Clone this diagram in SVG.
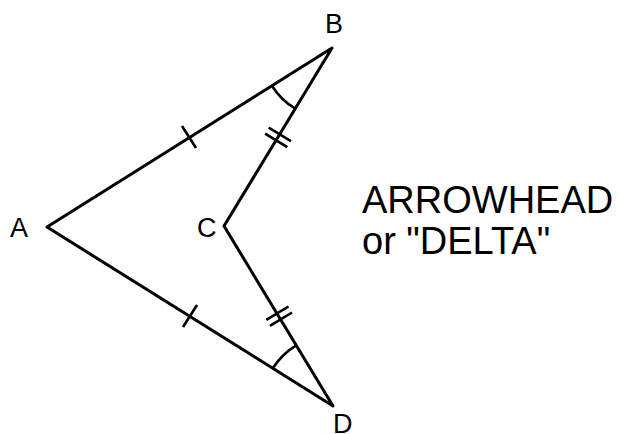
<svg xmlns="http://www.w3.org/2000/svg" width="619" height="434" viewBox="0 0 619 434">
<style>
.ln{fill:none;stroke:#000;stroke-width:3;stroke-linejoin:round;stroke-linecap:butt}
.tk{fill:none;stroke:#000;stroke-width:2.6}
.lbl{font-family:"Liberation Sans",Arial,sans-serif;font-size:27px;fill:#000}
.big{font-family:"Liberation Sans",Arial,sans-serif;font-size:38px;fill:#000}
</style>
<rect width="619" height="434" fill="#fff"/>
<g id="connectors">
<polygon class="ln" points="47,227 332,48 224,226 333,406"/>
<line class="tk" x1="182" y1="126" x2="196" y2="148"/>
<line class="tk" x1="183" y1="327" x2="197" y2="305"/>
<line class="tk" x1="268.7" y1="127.7" x2="290.9" y2="141.2"/>
<line class="tk" x1="265.1" y1="133.7" x2="287.3" y2="147.2"/>
<line class="tk" x1="266.3" y1="319.9" x2="288.5" y2="306.5"/>
<line class="tk" x1="269.9" y1="325.9" x2="292.1" y2="312.5"/>
<path class="tk" d="M271.9,85.8 A71,71 0 0 0 295.2,108.7"/>
<path class="tk" d="M272.8,368.3 A71,71 0 0 1 296.2,345.3"/>
</g>
<g id="A"><text class="lbl" x="10" y="237">A</text></g>
<g id="B"><text class="lbl" x="325" y="33">B</text></g>
<g id="C"><text class="lbl" x="197" y="237">C</text></g>
<g id="D"><text class="lbl" x="333" y="433">D</text></g>
<g id="title">
<text class="big" x="362" y="213">ARROWHEAD</text>
<text class="big" x="362" y="254">or "DELTA"</text>
</g>
</svg>
